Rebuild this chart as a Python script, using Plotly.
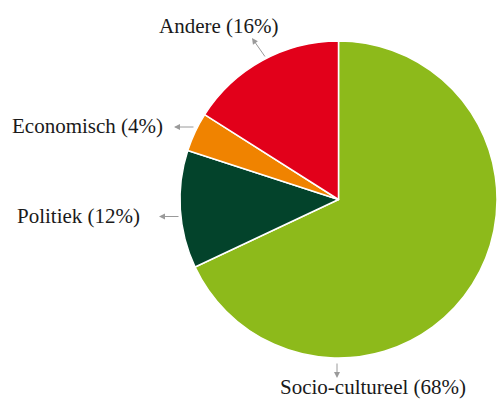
import plotly.graph_objects as go

# Verdeling van de categorieën (in procenten)
categories = ["Socio-cultureel", "Politiek", "Economisch", "Andere"]
shares = [68, 12, 4, 16]
colors = ["#8dba1b", "#03432b", "#f08300", "#e2001a"]

W, H = 497, 399


def px(x):
    return x / W


def py(y):
    return 1 - y / H


fig = go.Figure(
    go.Pie(
        labels=categories,
        values=shares,
        sort=False,
        direction="clockwise",
        rotation=0,
        textinfo="none",
        hoverinfo="label+percent",
        marker=dict(colors=colors, line=dict(color="white", width=1.5)),
        domain=dict(x=[180 / W, 1.0], y=[0.0, 1.0]),
        showlegend=False,
    )
)

# Labelposities (pixels): tekstanker, pijlpunt en begin van de pijl
label_layout = [
    # (text x, text y, xanchor, tip x, tip y, tail x, tail y)
    (372.5, 387, "center", 337, 378, 337, 362),   # Socio-cultureel
    (78, 215.5, "center", 159, 216.5, 180, 216.5),  # Politiek
    (87, 125.5, "center", 174, 127, 195, 127),    # Economisch
    (218.5, 25.5, "center", 252, 38, 266, 58),    # Andere
]

annotations = []
for name, val, (tx, ty, xa, hx, hy, sx, sy) in zip(categories, shares, label_layout):
    annotations.append(dict(
        x=px(tx), y=py(ty), xref="paper", yref="paper",
        text=f"{name} ({val}%)", showarrow=False,
        xanchor=xa, yanchor="middle",
        font=dict(family="Liberation Serif", size=21, color="#1a1a1a"),
    ))
    annotations.append(dict(
        x=px(hx), y=py(hy), xref="paper", yref="paper",
        ax=sx - hx, ay=sy - hy, axref="pixel", ayref="pixel",
        text="", showarrow=True,
        arrowhead=2, arrowsize=1.2, arrowwidth=1, arrowcolor="#9a9a9a",
    ))

fig.update_layout(
    width=W, height=H,
    margin=dict(l=0, r=0, t=0, b=0),
    paper_bgcolor="white",
    plot_bgcolor="white",
    annotations=annotations,
)

fig.write_html("out.html")
